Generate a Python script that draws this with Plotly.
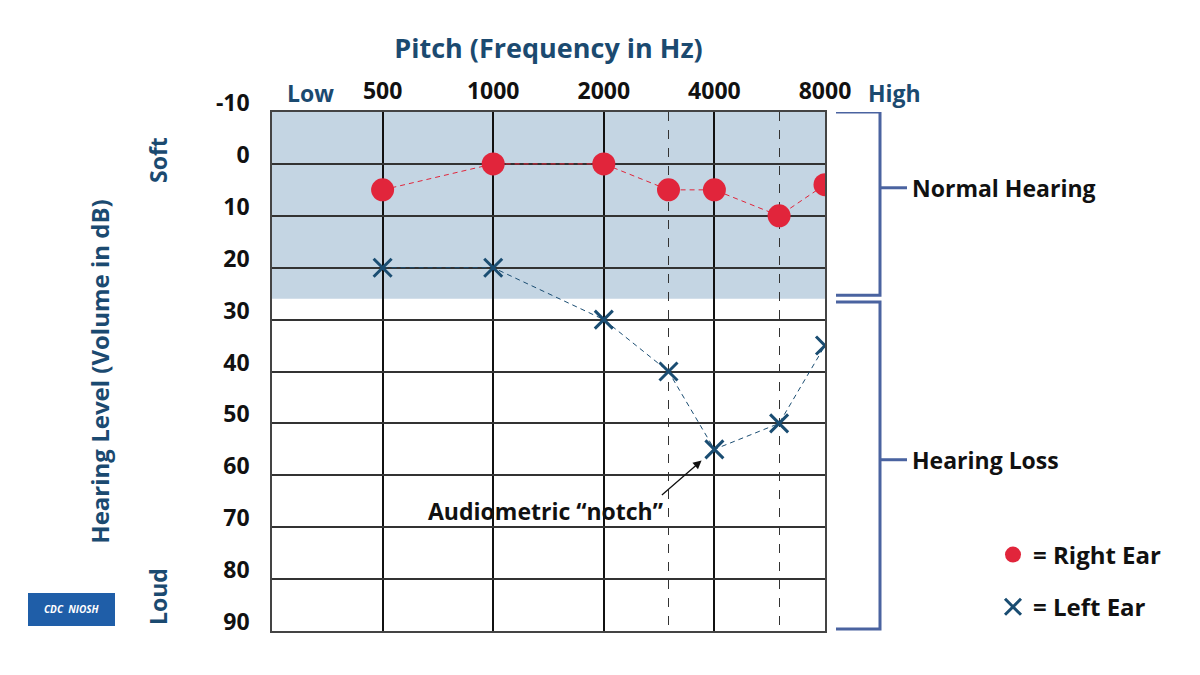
import math
import plotly.graph_objects as go

# ---------------- data ----------------
freq_hz = [500, 1000, 2000, 3000, 4000, 6000, 8000]
right_ear_db = [5, 0, 0, 5, 5, 10, 4]
left_ear_db = [20, 20, 30, 40, 55, 50, 35]

x_tick_vals = [500, 1000, 2000, 4000, 8000]
x_tick_text = ["500", "1000", "2000", "4000", "8000"]
x_minor_vals = [3000, 6000]
y_tick_vals = [-10, 0, 10, 20, 30, 40, 50, 60, 70, 80, 90]
y_tick_text = ["-10", "0", "10", "20", "30", "40", "50", "60", "70", "80", "90"]

normal_range = [-10, 26]
normal_bracket = [-10, 25.3, 4.6]
loss_bracket = [26.6, 89.6, 57.0]

# ---------------- style ----------------
FONT = "Open Sans"
BLUE_TXT = "#1b4a70"
RED = "#e1253b"
XBLUE = "#1a4d72"
BRACKET = "#4a63a0"
SHADE = "#c4d5e3"

OFF = 8  # page body margin
W, H = 1200 - OFF, 675 - OFF
# plot area in reference (window) pixels
L, R, T, B = 272, 825, 112, 631


def px(xp):
    return (xp - L) / (R - L)


def py(yp):
    return (B - yp) / (B - T)


fig = go.Figure()

fig.add_trace(go.Scatter(
    x=freq_hz, y=right_ear_db, mode="lines+markers", showlegend=False,
    line=dict(color=RED, width=1, dash="5px,4px"),
    marker=dict(symbol="circle", size=23, color=RED),
))
fig.add_trace(go.Scatter(
    x=freq_hz, y=left_ear_db, mode="lines+markers", showlegend=False,
    line=dict(color=XBLUE, width=1, dash="5px,4px"),
    marker=dict(symbol="x-thin", size=18, color=XBLUE,
                line=dict(color=XBLUE, width=3)),
))

# legend key entries
fig.add_trace(go.Scatter(
    x=[None], y=[None], mode="markers", name="= Right Ear", legendgroup="r",
    marker=dict(symbol="circle", size=23, color=RED),
))
fig.add_trace(go.Scatter(
    x=[None], y=[None], mode="markers", name="= Left Ear", legendgroup="l",
    marker=dict(symbol="x-thin", size=18, color=XBLUE,
                line=dict(color=XBLUE, width=3)),
))

shapes = []
shapes.append(dict(type="rect", xref="paper", yref="y", x0=0, x1=1,
                   y0=normal_range[0], y1=normal_range[1],
                   fillcolor=SHADE, line=dict(width=0), layer="below"))

for (y0, y1, ym) in [normal_bracket, loss_bracket]:
    shapes.append(dict(type="path", xref="paper", yref="y",
                       path=f"M {px(836)},{y0} L {px(880)},{y0} L {px(880)},{y1} L {px(836)},{y1}",
                       line=dict(color=BRACKET, width=3)))
    shapes.append(dict(type="line", xref="paper", yref="y",
                       x0=px(880), x1=px(907), y0=ym, y1=ym,
                       line=dict(color=BRACKET, width=3)))

# logo box
shapes.append(dict(type="rect", xref="paper", yref="paper",
                   x0=px(28), x1=px(115), y0=py(626), y1=py(593),
                   fillcolor="#1f5ea8", line=dict(width=0)))
fig.update_layout(shapes=shapes)


def lab(text, x, y, size=23, color=BLUE_TXT, angle=0, xanchor="center", yref="paper"):
    return dict(text=text, x=x, y=y, xref="paper", yref=yref, textangle=angle,
                xanchor=xanchor, yanchor="middle", showarrow=False,
                font=dict(family=FONT, size=size, color=color, weight="bold"))


annotations = [
    lab("Low", px(310), py(93)),
    lab("High", px(894), py(93)),
    lab("Soft", px(158), py(160), angle=-90),
    lab("Loud", px(158), py(597), angle=-90),
    lab("Normal Hearing", px(910), normal_bracket[2], color="#111111",
        xanchor="left", yref="y"),
    lab("Hearing Loss", px(910), loss_bracket[2], color="#111111",
        xanchor="left", yref="y"),
    lab("Audiometric \u201cnotch\u201d", px(545), py(511), size=23, color="#111111"),
    dict(text=" ", x=math.log10(freq_hz[4]), y=left_ear_db[4], xref="x", yref="y",
         font=dict(size=1), showarrow=True, ax=-54, ay=47,
         arrowhead=2, arrowsize=1.3, arrowwidth=1.3,
         arrowcolor="#111111", standoff=17),
    lab("<i>CDC</i>  <i>NIOSH</i>", px(72), py(609), size=10, color="white"),
]
fig.update_layout(annotations=annotations)

fig.update_xaxes(
    type="log", range=[2.39794, 3.90309], side="top",
    tickvals=x_tick_vals, ticktext=x_tick_text, ticks="",
    tickfont=dict(family=FONT, size=23, color="#111111", weight="bold"),
    ticklabelstandoff=2,
    showgrid=True, gridcolor="#111111", gridwidth=1.5,
    minor=dict(tickvals=x_minor_vals, showgrid=True, griddash="dash",
               gridcolor="#333333", gridwidth=1.2, ticks=""),
    showline=True, linecolor="#444444", linewidth=1.5, mirror=True,
    title=dict(text="Pitch (Frequency in Hz)", standoff=8,
               font=dict(family=FONT, size=27, color=BLUE_TXT, weight="bold")),
    zeroline=False,
)
fig.update_yaxes(
    range=[90, -10], tickvals=y_tick_vals, ticktext=y_tick_text, ticks="",
    tickfont=dict(family=FONT, size=23, color="#111111", weight="bold"),
    ticklabelstandoff=16, ticklabelshift=9,
    showgrid=True, gridcolor="#333333", gridwidth=1.5,
    showline=True, linecolor="#444444", linewidth=1.5, mirror=True,
    title=dict(text="Hearing Level (Volume in dB)", standoff=100,
               font=dict(family=FONT, size=24, color=BLUE_TXT, weight="bold")),
    zeroline=False,
)

fig.update_layout(
    width=W, height=H,
    margin=dict(l=L - OFF, r=W - (R - OFF), t=T - OFF, b=H - (B - OFF)),
    paper_bgcolor="white", plot_bgcolor="white",
    showlegend=True,
    legend=dict(x=px(993), y=py(581), xanchor="left", yanchor="middle",
                traceorder="grouped", tracegroupgap=18,
                font=dict(family=FONT, size=24, color="#111111", weight="bold"),
                bgcolor="rgba(0,0,0,0)"),
)

fig.write_html("out.html")
